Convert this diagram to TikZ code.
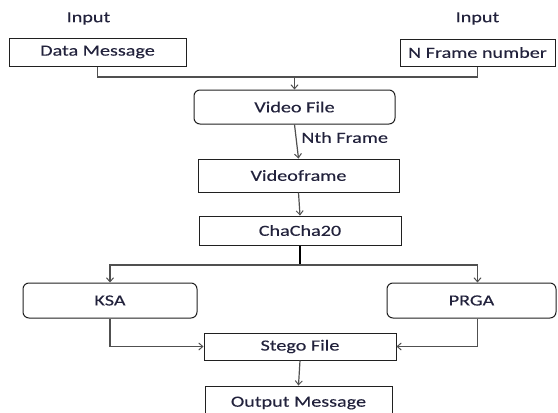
\documentclass[tikz,border=0pt]{standalone}
\usepackage{fontspec}
\setmainfont{Carlito}[FakeStretch=1.3,FakeBold=0.2]
\usetikzlibrary{arrows.meta,calc}
\definecolor{txt}{HTML}{22223C}
\definecolor{wire}{HTML}{505050}
\definecolor{edge}{HTML}{202020}
\begin{document}
\begin{tikzpicture}[x=1pt,y=-1pt,
  every node/.style={font=\fontsize{15.5}{18}\selectfont, text=txt},
  block/.style={draw=edge, line width=1pt, rectangle, inner sep=0pt},
  rblock/.style={block, rounded corners=6pt},
  wire/.style={draw=wire, line width=1.2pt},
  flow/.style={wire, -{Straight Barb[length=4pt,width=7pt,line width=1pt]}},
  trunk/.style={draw=black, line width=2.6pt}]
\useasboundingbox (0,0) rectangle (558,413);
\clip (0,0) rectangle (558,413);

% inputs
\node (inl) at (88.5,18.5) {Input};
\node (inr) at (477.5,18.5) {Input};
\node[block, minimum width=177pt, minimum height=28pt] (dm) at (97.5,52) {Data Message};
\node[block, minimum width=155pt, minimum height=27pt] (nf) at (477.5,52.5) {N Frame number};

% main chain
\node[rblock, minimum width=201pt, minimum height=34pt] (vf) at (294.5,107) {Video File};
\node[block, minimum width=201pt, minimum height=33pt] (vfr) at (298.5,175.5) {Videoframe};
\node[block, minimum width=202pt, minimum height=29pt] (cc) at (300,230.5) {ChaCha20};
\node[rblock, minimum width=174pt, minimum height=35pt] (ksa) at (110,300.5) {KSA};
\node[rblock, minimum width=169pt, minimum height=35pt] (prga) at (471.5,300.5) {PRGA};
\node[block, minimum width=192pt, minimum height=27pt] (sf) at (300,346.5) {Stego File};
\node[block, minimum width=187pt, minimum height=34pt] (om) at (298.5,403) {Output Message};

% joining the two inputs
\coordinate (join) at (vf.north |- 0,77);
\draw[wire] (dm.south) |- (join) -| (nf.south);
\draw[flow] (join) -- (vf.north);

% frame extraction
\draw[flow] (vf.south) -- node[right, xshift=1pt, yshift=4pt] {Nth Frame} (vfr.north);
\draw[flow] (vfr.south) -- (cc.north);

% split to KSA / PRGA
\coordinate (split) at (cc.south |- 0,265);
\draw[trunk] (cc.south) -- (split);
\draw[flow] (split) -| (ksa.north);
\draw[flow] (split) -| (prga.north -| nf.south);

% merge into the stego file
\draw[flow] (ksa.south) |- (sf.west);
\draw[flow] (prga.south -| nf.south) |- (sf.east);
\draw[flow] (sf.south) -- (om.north);
\end{tikzpicture}
\end{document}
